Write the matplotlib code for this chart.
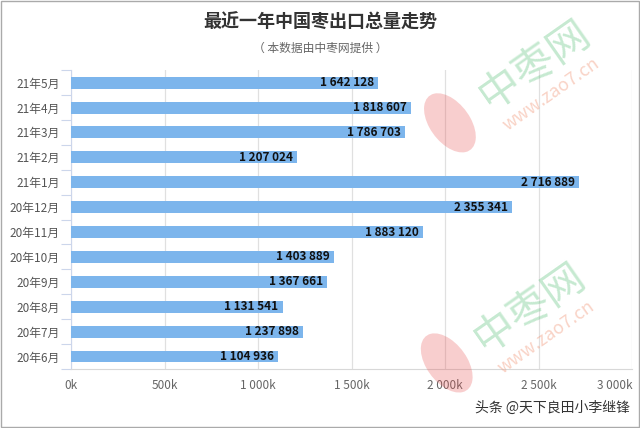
import matplotlib.pyplot as plt
from matplotlib.patches import Ellipse

plt.rcParams['font.family'] = ['Noto Sans CJK SC', 'DejaVu Sans']

# Data (from top to bottom as shown)
months = ['21年5月', '21年4月', '21年3月', '21年2月', '21年1月', '20年12月',
          '20年11月', '20年10月', '20年9月', '20年8月', '20年7月', '20年6月']
exports = [1642128, 1818607, 1786703, 1207024, 2716889, 2355341,
           1883120, 1403889, 1367661, 1131541, 1237898, 1104936]
xticks = [0, 500000, 1000000, 1500000, 2000000, 2500000, 3000000]
xtick_labels = ['0k', '500k', '1 000k', '1 500k', '2 000k', '2 500k', '3 000k']

fig = plt.figure(figsize=(6.4, 4.28), dpi=100)
ax = fig.add_axes([0.111, 0.138, 0.877, 0.698])

y = list(range(len(months)))
ax.barh(y, exports, height=0.48, color='#7cb5ec', zorder=3)
ax.set_ylim(len(months) - 0.5, -0.5)
ax.set_xlim(0, 3000000)

# value labels inside bar ends
for yi, v in zip(y, exports):
    txt = f'{v:,}'.replace(',', ' ')
    ax.annotate(txt, (v, yi), xytext=(-3, 0), textcoords='offset points',
                ha='right', va='center', fontsize=8.5, fontweight='bold',
                color='#111111', zorder=5)

# axes styling
ax.set_yticks(y)
ax.set_yticklabels(months, fontsize=8.5, color='#555555')
ax.set_yticks([i + 0.5 for i in range(-1, len(months))], minor=True)
ax.tick_params(axis='y', which='major', length=0, pad=8)
ax.tick_params(axis='y', which='minor', length=7, color='#ccd6eb', width=0.8)

ax.set_xticks(xticks)
ax.set_xticklabels(xtick_labels, fontsize=8.5, color='#666666')
ax.tick_params(axis='x', length=0, pad=7)
ax.get_xticklabels()[-1].set_horizontalalignment('right')

ax.grid(axis='x', color='#e0e0e0', linewidth=0.9, zorder=0)
for s in ['top', 'right']:
    ax.spines[s].set_visible(False)
ax.spines['left'].set_color('#ccd6eb')
ax.spines['bottom'].set_color('#d8d8d8')

# titles
fig.text(0.5, 0.948, '最近一年中国枣出口总量走势', ha='center', va='center',
         fontsize=13, fontweight='bold', color='#333333')
fig.text(0.5, 0.888, '（ 本数据由中枣网提供 ）', ha='center', va='center',
         fontsize=8.5, color='#666666')

# watermarks
for gx, gy, ex, ey in [(0.836, 0.848, 0.703, 0.713), (0.828, 0.28, 0.698, 0.152)]:
    fig.text(gx, gy, '中枣网', rotation=35, ha='center', va='center',
             fontsize=30, color='#5cc27a', alpha=0.35, zorder=10)
    fig.text(gx + 0.025, gy - 0.068, 'www.zao7.cn', rotation=35, ha='center', va='center',
             fontsize=13, color='#f09070', alpha=0.4, zorder=10)
    fig.patches.append(Ellipse((ex, ey), 0.068, 0.145, angle=20,
                               transform=fig.transFigure, facecolor='#e85050',
                               alpha=0.28, edgecolor='none', zorder=9))

fig.text(0.985, 0.048, '头条 @天下良田小李继锋', ha='right', va='center',
         fontsize=10, color='#333333')

# outer frame
fig.patches.append(plt.Rectangle((0.002, 0.002), 0.996, 0.996, transform=fig.transFigure,
                                 fill=False, edgecolor='#aaaaaa', linewidth=1))

fig.savefig('out.png', dpi=100)
